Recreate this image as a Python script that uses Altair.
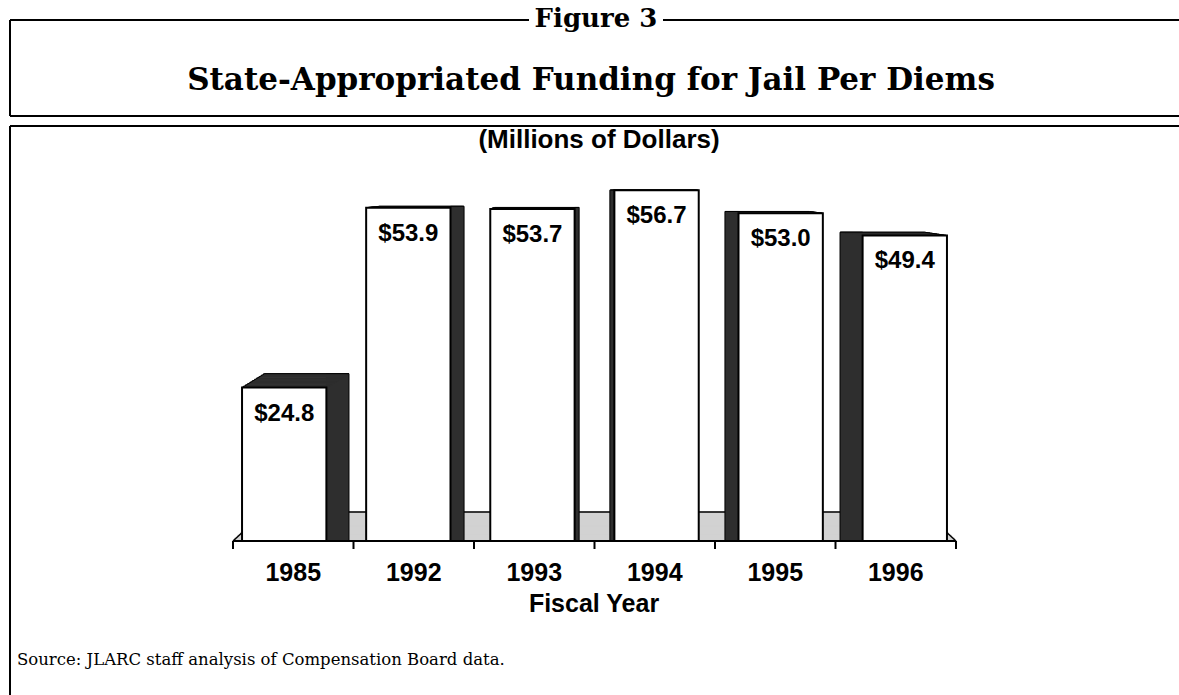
import altair as alt
import pandas as pd

# ---------------- data ----------------
years = ["1985", "1992", "1993", "1994", "1995", "1996"]
values = [24.8, 53.9, 53.7, 56.7, 53.0, 49.4]
labels = ["$24.8", "$53.9", "$53.7", "$56.7", "$53.0", "$49.4"]

figure_text = "Figure 3"
title_text = "State-Appropriated Funding for Jail Per Diems"
unit_text = "(Millions of Dollars)"
x_title = "Fiscal Year"
source_text = "Source:  JLARC staff analysis of Compensation Board data."

# ---------------- layout / style ----------------
W, H = 723, 402
PAD = {"left": 233, "top": 139, "right": 1179 - 233 - 723, "bottom": 695 - 139 - 402}
SANS = "'Liberation Sans', Arial, sans-serif"
SERIF = "'DejaVu Serif', 'Liberation Serif', serif"
DARK = "#2e2e2e"
FLOORC = "#d2d2d2"

HALF = 0.35    # half-width of a bar's front face (band units)
DEPTH = 0.075  # perspective depth of the side face per band from centre
SHIFT = 0.03   # front-face shift away from the side face
RISE = 0.07    # rise of the top face per unit below eye level
EYE = 57.0
FLOOR_H = 4.7
FLOOR_RUN = 0.26
SLICES = 10

n = len(years)
mid = (n - 1) / 2
idx = list(range(n))

bars = pd.DataFrame({"year": years, "value": values, "label": labels, "i": idx})
bars["off"] = bars["i"] - mid
bars["sgn"] = bars["off"].apply(lambda o: 1.0 if o < 0 else -1.0)  # +1: side on right
bars["cx"] = bars["i"] + SHIFT * bars["off"]
bars["x0"] = bars["cx"] - HALF
bars["x1"] = bars["cx"] + HALF
bars["d"] = DEPTH * bars["off"].abs()
bars["t"] = (RISE * (EYE - bars["value"])).clip(lower=0)
bars["zero"] = 0.0
right = bars["sgn"] > 0
bars["sx0"] = bars["x1"].where(right, bars["x0"] - bars["d"])
bars["sx1"] = (bars["x1"] + bars["d"]).where(right, bars["x0"])
bars["stop"] = bars["value"] + bars["t"]
# top-face outline (slanted edge and back edge)
bars["ex0"] = bars["x0"].where(right, bars["x1"])
bars["ex1"] = bars["ex0"] + bars["sgn"] * bars["d"]
bars["bx0"] = bars["x0"] + bars["sgn"] * bars["d"]
bars["bx1"] = bars["x1"] + bars["sgn"] * bars["d"]

# top face filled as thin horizontal slices of the parallelogram
top_rows = []
for r in bars.itertuples():
    for j in range(SLICES):
        f = (j + 0.5) / SLICES
        top_rows.append({
            "year": r.year,
            "a": r.x0 + r.sgn * r.d * f, "b": r.x1 + r.sgn * r.d * f,
            "lo": r.value + r.t * j / SLICES, "hi": r.value + r.t * (j + 1) / SLICES,
        })
tops = pd.DataFrame(top_rows)

# floor (parallelogram strip behind the bars)
left_end, right_end = -0.5, n - 0.5
floor_rows = []
for j in range(SLICES):
    f = (j + 0.5) / SLICES
    floor_rows.append({
        "a": left_end + FLOOR_RUN * f, "b": right_end - FLOOR_RUN * f,
        "lo": FLOOR_H * j / SLICES, "hi": FLOOR_H * (j + 1) / SLICES,
    })
floor = pd.DataFrame(floor_rows)
floor_edges = pd.DataFrame({
    "a": [left_end, left_end + FLOOR_RUN, right_end - FLOOR_RUN],
    "b": [left_end + FLOOR_RUN, right_end - FLOOR_RUN, right_end],
    "ya": [0, FLOOR_H, FLOOR_H],
    "yb": [FLOOR_H, FLOOR_H, 0],
})
base = pd.DataFrame({"a": [left_end], "b": [right_end], "z": [0.0]})
bounds = pd.DataFrame({"b": [i - 0.5 for i in range(n + 1)]})
one = pd.DataFrame({"k": [0]})

# ---------------- scales ----------------
xscale = alt.Scale(domain=[left_end, right_end], nice=False, zero=False)
yscale = alt.Scale(domain=[0, 65], nice=False, zero=True)


def X(field):
    return alt.X(field, type="quantitative", scale=xscale, axis=None)


def Y(field):
    return alt.Y(field, type="quantitative", scale=yscale, axis=None)


floor_layer = alt.Chart(floor).mark_rect(fill=FLOORC, stroke=FLOORC, strokeWidth=1).encode(
    x=X("a"), x2="b:Q", y=Y("lo"), y2="hi:Q")
floor_edge_layer = alt.Chart(floor_edges).mark_rule(color="black", strokeWidth=1.5).encode(
    x=X("a"), x2="b:Q", y=Y("ya"), y2="yb:Q")

side_layer = alt.Chart(bars).mark_rect(fill=DARK, stroke="black", strokeWidth=1).encode(
    x=X("sx0"), x2="sx1:Q", y=Y("zero"), y2="stop:Q")
top_layer = alt.Chart(tops).mark_rect(fill=DARK, stroke=DARK, strokeWidth=1).encode(
    x=X("a"), x2="b:Q", y=Y("lo"), y2="hi:Q")
top_edge_layer = alt.Chart(bars).mark_rule(color="black", strokeWidth=1).encode(
    x=X("ex0"), x2="ex1:Q", y=Y("value"), y2="stop:Q")
top_back_layer = alt.Chart(bars).mark_rule(color="black", strokeWidth=1).encode(
    x=X("bx0"), x2="bx1:Q", y=Y("stop"))

front_layer = alt.Chart(bars).mark_rect(fill="white", stroke="black", strokeWidth=2).encode(
    x=X("x0"), x2="x1:Q", y=Y("zero"), y2="value:Q")

label_layer = alt.Chart(bars).mark_text(
    dy=26, baseline="middle", align="center", font=SANS, fontSize=24,
    fontWeight="bold", color="black"
).encode(x=X("cx"), y=Y("value"), text="label:N")

base_layer = alt.Chart(base).mark_rule(color="black", strokeWidth=2).encode(
    x=X("a"), x2="b:Q", y=Y("z"))
tick_layer = alt.Chart(bounds).mark_rule(color="black", strokeWidth=2).encode(
    x=X("b"), y=alt.value(H), y2=alt.value(H + 8))
year_layer = alt.Chart(bars).mark_text(
    baseline="alphabetic", align="center", font=SANS, fontSize=25,
    fontWeight="bold", color="black"
).encode(x=X("i"), y=alt.value(H + 40), text="year:N")


def hline(y, xa, xb):
    return alt.Chart(one).mark_rule(color="black", strokeWidth=2).encode(
        x=alt.value(xa), x2=alt.value(xb), y=alt.value(y))


def vline(x, ya, yb):
    return alt.Chart(one).mark_rule(color="black", strokeWidth=2).encode(
        x=alt.value(x), y=alt.value(ya), y2=alt.value(yb))


def label(txt, x, y, font, size, weight, align="center"):
    return alt.Chart(one).mark_text(
        text=txt, font=font, fontSize=size, fontWeight=weight, align=align,
        baseline="alphabetic", color="black"
    ).encode(x=alt.value(x), y=alt.value(y))


L = -PAD["left"] + 10
R = W + PAD["right"] + 5
frame = [
    hline(-119, L, 296), hline(-119, 430, R),
    vline(L, -119, -23),
    hline(-23, L, R), hline(-13, L, R),
    vline(L, -13, H + PAD["bottom"] + 5),
]
texts = [
    label(figure_text, 363, -112, SERIF, 26, "bold"),
    label(title_text, 358, -49, SERIF, 31, "bold"),
    label(unit_text, 366, 9, SANS, 26, "bold"),
    label(x_title, 361, 473, SANS, 25, "bold"),
    label(source_text, -216, 526, SERIF, 16.5, "normal", align="left"),
]

chart = alt.layer(
    floor_layer, floor_edge_layer, side_layer, top_layer, top_edge_layer,
    top_back_layer, front_layer, label_layer, base_layer, tick_layer, year_layer,
    *frame, *texts
).properties(
    width=W, height=H, padding=PAD, autosize=alt.AutoSizeParams(type="none"),
    background="white"
).configure_view(stroke=None)

chart.save("out.html", embed_options={"renderer": "svg", "actions": False})
